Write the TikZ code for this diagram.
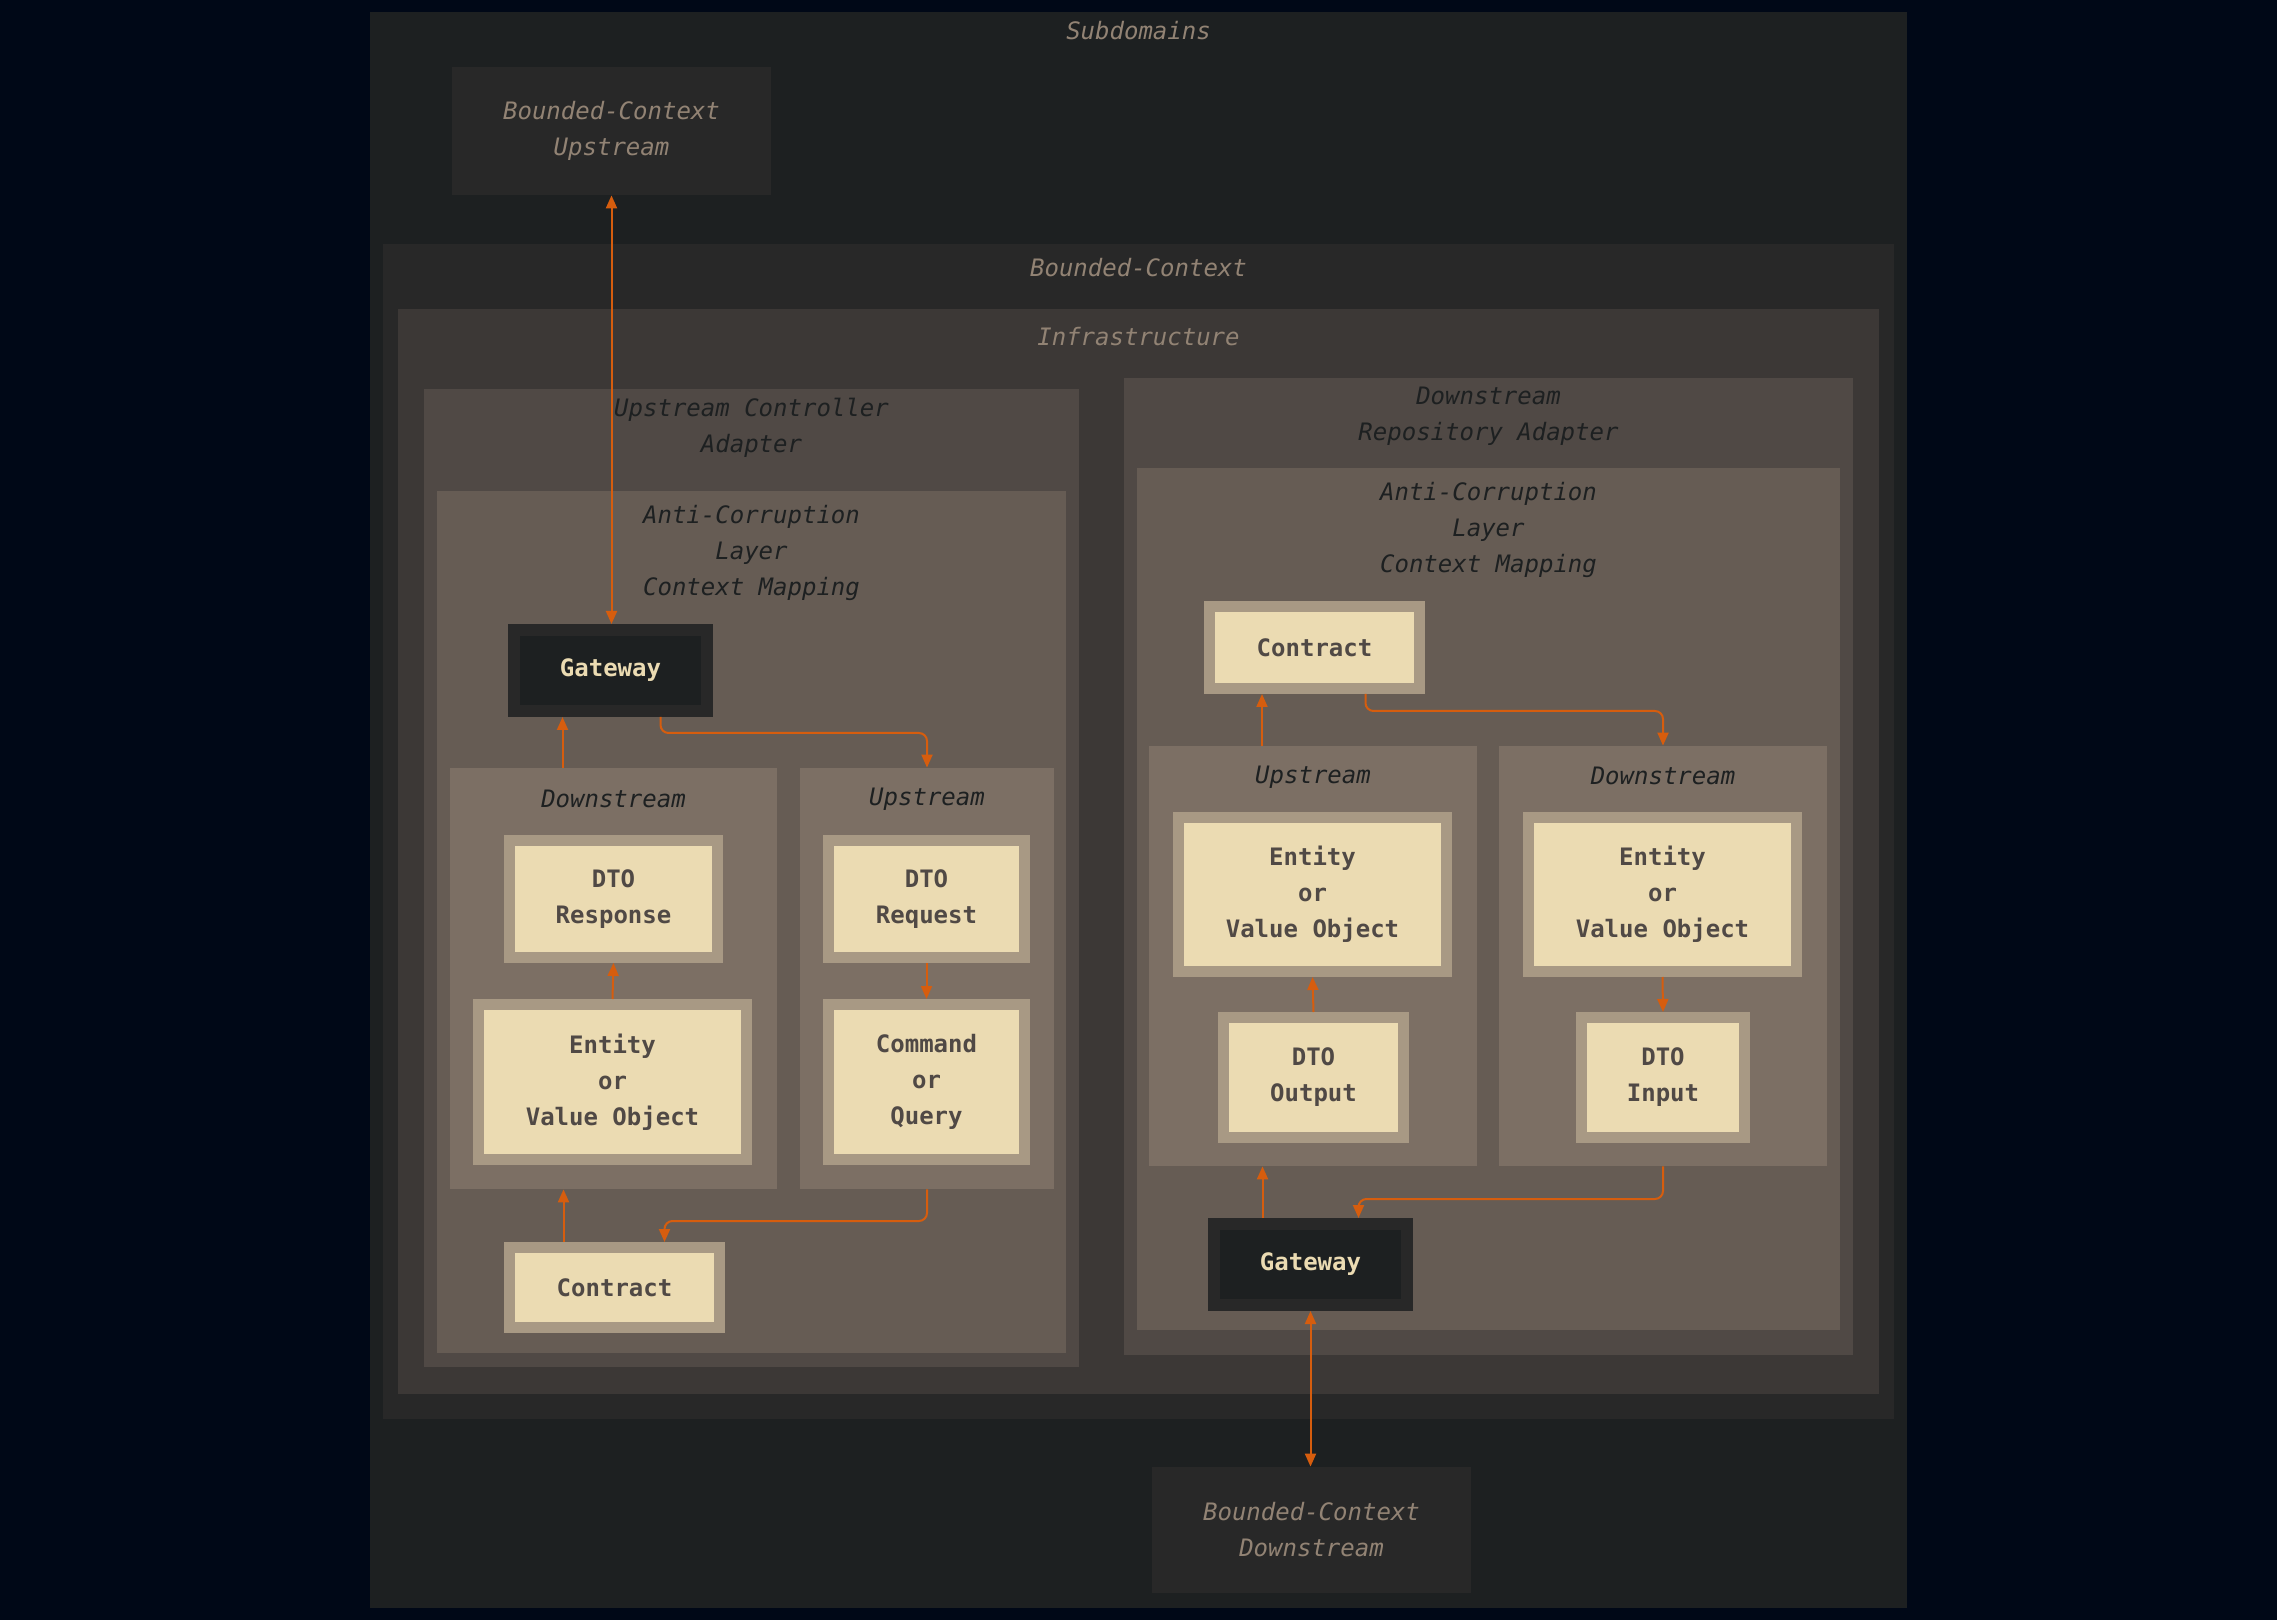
\documentclass[tikz,border=0pt]{standalone}
\usepackage{fontspec}
\setmainfont{DejaVu Sans Mono}
\usetikzlibrary{arrows.meta}

\definecolor{navy}{HTML}{000817}
\definecolor{bghard}{HTML}{1D2021}
\definecolor{bgzero}{HTML}{282828}
\definecolor{bgone}{HTML}{3C3836}
\definecolor{bgtwo}{HTML}{504945}
\definecolor{bgthree}{HTML}{665C54}
\definecolor{bgfour}{HTML}{7C6F64}
\definecolor{grayish}{HTML}{928374}
\definecolor{fgfour}{HTML}{A89984}
\definecolor{fgone}{HTML}{EBDBB2}
\definecolor{orng}{HTML}{D65D0E}

\begin{document}
\begin{tikzpicture}[x=0.5pt, y=-0.5pt, >={Triangle[length=6.5pt, width=5.5pt]},
		every node/.style={font=\fontsize{12}{18}\selectfont, inner sep=0pt},
		cluster/.style={fill=#1},
		title/.style={text=#1, align=center, font=\fontsize{12}{18}\selectfont\itshape},
		item/.style={fill=fgone, draw=fgfour, line width=5.5pt, text=bgtwo, align=center,
			font=\fontsize{12}{18}\selectfont\bfseries},
		gate/.style={fill=bghard, draw=bgzero, line width=6pt, text=fgone,
			font=\fontsize{12}{18}\selectfont\bfseries},
		flow/.style={draw=orng, line width=1pt, rounded corners=4pt, ->}]

	\fill[navy] (0,0) rectangle (2277,1620);
	\useasboundingbox (0,0) rectangle (2277,1620);

	% outer groups
	\node[cluster=bghard, minimum width=768.5pt, minimum height=798pt]	(sub) at (1138.5,810) {};
	\node[title=grayish] (subT) at ([yshift=-9.5pt]sub.north) {Subdomains};

	\node[cluster=bgzero, minimum width=159.5pt, minimum height=64pt, title=grayish]	(bcup) at (611.5,131) {Bounded-Context\\Upstream};

	\node[cluster=bgzero, minimum width=755.5pt, minimum height=587.5pt]	(bc) at (1138.5,831.5) {};
	\node[title=grayish] (bcT) at ([yshift=-12pt]bc.north) {Bounded-Context};

	\node[cluster=bgone, minimum width=740.5pt, minimum height=542.5pt]	(infra) at (1138.5,851.5) {};
	\node[title=grayish] (infraT) at ([yshift=-14pt]infra.north) {Infrastructure};

	\node[cluster=bgzero, minimum width=159.5pt, minimum height=63pt, title=grayish]	(bcdown) at (1311.5,1530) {Bounded-Context\\Downstream};

	% upstream controller adapter
	\node[cluster=bgtwo, minimum width=327.5pt, minimum height=489pt]	(ucad) at (751.5,878) {};
	\node[title=bghard] (ucadT) at ([yshift=-19.5pt]ucad.north) {Upstream Controller\\Adapter};

	\node[cluster=bgthree, minimum width=314.5pt, minimum height=431pt]	(aclL) at (751.5,922) {};
	\node[title=bghard] (aclLT) at ([yshift=-31pt]aclL.north) {Anti-Corruption\\Layer\\Context Mapping};

	\node[gate, minimum width=96.5pt, minimum height=40.5pt]	(gwL) at (610.5,670.5) {Gateway};

	\node[cluster=bgfour, minimum width=163.5pt, minimum height=210.5pt]	(dsL) at (613.5,978.5) {};
	\node[title=bghard] (dsLT) at ([yshift=-15.5pt]dsL.north) {Downstream};
	\node[cluster=bgfour, minimum width=127pt, minimum height=210.5pt]	(usL) at (927,978.5) {};
	\node[title=bghard] (usLT) at ([yshift=-16pt]usL.north) {Upstream};

	\node[item, minimum width=104pt, minimum height=58.5pt]	(dtoResp) at (613.5,899) {DTO\\Response};
	\node[item, minimum width=134pt, minimum height=77.5pt]	(entL) at (612.5,1082) {Entity\\or\\Value Object};
	\node[item, minimum width=98pt, minimum height=58.5pt]	(dtoReq) at (926.5,899) {DTO\\Request};
	\node[item, minimum width=98pt, minimum height=77.5pt]	(cmd) at (926.5,1082) {Command\\or\\Query};
	\node[item, minimum width=105pt, minimum height=40pt]	(conL) at (614.5,1287.5) {Contract};

	% downstream repository adapter
	\node[cluster=bgtwo, minimum width=364.5pt, minimum height=488.5pt]	(drad) at (1488.5,866.5) {};
	\node[title=bghard] (dradT) at ([yshift=-19.5pt]drad.north) {Downstream\\Repository Adapter};

	\node[cluster=bgthree, minimum width=351.5pt, minimum height=431pt]	(aclR) at (1488.5,899) {};
	\node[title=bghard] (aclRT) at ([yshift=-31pt]aclR.north) {Anti-Corruption\\Layer\\Context Mapping};

	\node[item, minimum width=105pt, minimum height=41pt]	(conR) at (1314.5,647.5) {Contract};

	\node[cluster=bgfour, minimum width=164pt, minimum height=210pt]	(usR) at (1313,956) {};
	\node[title=bghard] (usRT) at ([yshift=-16pt]usR.north) {Upstream};
	\node[cluster=bgfour, minimum width=164pt, minimum height=210pt]	(dsR) at (1663,956) {};
	\node[title=bghard] (dsRT) at ([yshift=-15pt]dsR.north) {Downstream};

	\node[item, minimum width=134pt, minimum height=77pt]	(entRU) at (1312.5,894.5) {Entity\\or\\Value Object};
	\node[item, minimum width=134pt, minimum height=77pt]	(entRD) at (1662.5,894.5) {Entity\\or\\Value Object};
	\node[item, minimum width=90pt, minimum height=60pt]	(dtoOut) at (1313.5,1077.5) {DTO\\Output};
	\node[item, minimum width=81.5pt, minimum height=60pt]	(dtoIn) at (1663,1077.5) {DTO\\Input};

	\node[gate, minimum width=96.5pt, minimum height=40.5pt]	(gwR) at (1310.5,1264.5) {Gateway};

	% connectors
	\draw[flow, <->]	(bcup.south) -- (bcup.south |- gwL.north);
	\draw[flow]	([xshift=-24pt]gwL.south |- dsL.north) -- ([xshift=-24pt]gwL.south);
	\draw[flow]	([xshift=25pt]gwL.south) -- ([xshift=25pt, yshift=-8pt]gwL.south) -| (usL.north);
	\draw[flow]	(dtoReq.south) -- (cmd.north);
	\draw[flow]	(entL.north) -- (dtoResp.south);
	\draw[flow]	([xshift=-25.5pt]conL.north) -- ([xshift=-25.5pt]conL.north |- dsL.south);
	\draw[flow]	(usL.south) |- ([xshift=25pt, yshift=10.5pt]conL.north) -- ([xshift=25pt]conL.north);

	\draw[flow]	([xshift=-25.5pt]usR.north) -- ([xshift=-25.5pt]usR.north |- conR.south);
	\draw[flow]	([xshift=25.5pt]conR.south) -- ([xshift=25.5pt, yshift=-8.5pt]conR.south) -| (dsR.north);
	\draw[flow]	(dtoOut.north) -- (entRU.south);
	\draw[flow]	(entRD.south) -- (dtoIn.north);
	\draw[flow]	([xshift=-24pt]gwR.north) -- ([xshift=-24pt]gwR.north |- usR.south);
	\draw[flow]	(dsR.south) |- ([xshift=24pt, yshift=9.5pt]gwR.north) -- ([xshift=24pt]gwR.north);
	\draw[flow, <->]	(gwR.south) -- (gwR.south |- bcdown.north);
\end{tikzpicture}
\end{document}
